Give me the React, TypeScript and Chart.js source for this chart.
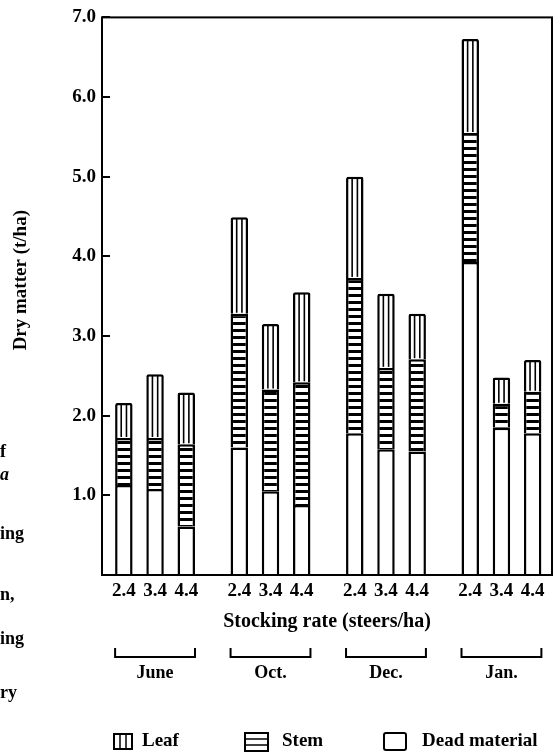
import React, { useEffect, useRef } from 'react';
import { Chart, registerables } from 'chart.js';

Chart.register(...registerables);

// ---- data ----
const MONTHS = ['June', 'Oct.', 'Dec.', 'Jan.'];
const RATES = ['2.4', '3.4', '4.4'];
const SERIES = ['Leaf', 'Stem', 'Dead material'];
// t/ha, bars in order June(2.4,3.4,4.4), Oct, Dec, Jan
const DEAD = [1.13, 1.08, 0.61, 1.6, 1.05, 0.88, 1.78, 1.58, 1.55, 3.93, 1.85, 1.78];
const STEM = [0.59, 0.64, 1.03, 1.68, 1.28, 1.54, 1.95, 1.02, 1.16, 1.62, 0.3, 0.52];
const LEAF = [0.44, 0.8, 0.65, 1.21, 0.82, 1.13, 1.27, 0.93, 0.57, 1.18, 0.33, 0.4];
const Y_TICKS = [1, 2, 3, 4, 5, 6, 7];
const Y_TITLE = 'Dry matter (t/ha)';
const X_TITLE = 'Stocking rate (steers/ha)';
// fragments of the neighbouring text column on the scanned page
const MARGIN_TEXT = ['f', 'a', 'ing', 'n,', 'ing', 'ry'];

// ---- layout ----
const W = 557;
const H = 755;
const GROUP_STRIDE = 3.7;
const FONT = "'Liberation Serif', 'Times New Roman', serif";
const MARGIN_TOPS = [441, 464, 523, 584, 628, 682];
const MARGIN_ITALIC = [false, true, false, false, false, false];

const xPos = (i: number) => Math.floor(i / 3) * GROUP_STRIDE + (i % 3);
const X_POSITIONS = DEAD.map((_, i) => xPos(i));

function makeStemPattern(): CanvasPattern | string {
  const c = document.createElement('canvas');
  c.width = 8;
  c.height = 7;
  const g = c.getContext('2d');
  if (!g) return '#fff';
  g.fillStyle = '#fff';
  g.fillRect(0, 0, 8, 7);
  g.fillStyle = '#000';
  g.fillRect(0, 0, 8, 3);
  const p = g.createPattern(c, 'repeat');
  return p || '#fff';
}

const decorPlugin = {
  id: 'decor',
  afterDatasetsDraw(chart: any) {
    const ctx = chart.ctx as CanvasRenderingContext2D;
    // vertical hatching for leaf segments
    const leafMeta = chart.getDatasetMeta(2);
    ctx.save();
    ctx.strokeStyle = '#000';
    ctx.lineWidth = 1.6;
    leafMeta.data.forEach((el: any) => {
      const { x, y, base, width } = el.getProps(['x', 'y', 'base', 'width'], true);
      const top = Math.min(y, base) + 1;
      const bot = Math.max(y, base) - 1;
      [-0.15, 0.15].forEach((f) => {
        const lx = x + f * width;
        ctx.beginPath();
        ctx.moveTo(lx, top);
        ctx.lineTo(lx, bot);
        ctx.stroke();
      });
    });
    ctx.restore();
  },
  afterDraw(chart: any) {
    const ctx = chart.ctx as CanvasRenderingContext2D;
    const a = chart.chartArea;
    const yScale = chart.scales.y;
    ctx.save();
    ctx.strokeStyle = '#000';
    ctx.fillStyle = '#000';
    ctx.lineWidth = 2;
    // frame
    ctx.strokeRect(a.left, a.top, a.right - a.left, a.bottom - a.top);
    // inward y ticks
    Y_TICKS.forEach((v) => {
      const py = Math.round(yScale.getPixelForValue(v));
      ctx.beginPath();
      ctx.moveTo(a.left, py);
      ctx.lineTo(a.left + 8, py);
      ctx.stroke();
    });
    // y title (rotated)
    ctx.save();
    ctx.translate(21, (a.top + a.bottom) / 2 - 16);
    ctx.rotate(-Math.PI / 2);
    ctx.font = `bold 19px ${FONT}`;
    ctx.textAlign = 'center';
    ctx.textBaseline = 'middle';
    ctx.fillText(Y_TITLE, 0, 0);
    ctx.restore();
    // month brackets
    const meta = chart.getDatasetMeta(0);
    ctx.font = `bold 18px ${FONT}`;
    ctx.textAlign = 'center';
    ctx.textBaseline = 'middle';
    MONTHS.forEach((m, g) => {
      const e0 = meta.data[g * 3];
      const e2 = meta.data[g * 3 + 2];
      const left = e0.x - e0.width / 2;
      const right = e2.x + e2.width / 2;
      const yb = a.bottom + 82;
      const yt = a.bottom + 73;
      ctx.beginPath();
      ctx.moveTo(left, yt);
      ctx.lineTo(left, yb);
      ctx.lineTo(right, yb);
      ctx.lineTo(right, yt);
      ctx.stroke();
      ctx.fillText(m, (left + right) / 2, a.bottom + 98);
    });
    // legend
    const ly = 741;
    ctx.font = `bold 19px ${FONT}`;
    ctx.textAlign = 'left';
    // Leaf icon
    ctx.strokeRect(114, 734, 18, 15);
    ctx.lineWidth = 1.5;
    [120, 126].forEach((x) => {
      ctx.beginPath();
      ctx.moveTo(x, 734);
      ctx.lineTo(x, 749);
      ctx.stroke();
    });
    ctx.fillText(SERIES[0], 142, ly);
    // Stem icon
    ctx.lineWidth = 2;
    ctx.strokeRect(245, 733, 23, 18);
    ctx.lineWidth = 1.5;
    [739, 745].forEach((y) => {
      ctx.beginPath();
      ctx.moveTo(245, y);
      ctx.lineTo(268, y);
      ctx.stroke();
    });
    ctx.fillText(SERIES[1], 282, ly);
    // Dead icon
    ctx.lineWidth = 2;
    ctx.beginPath();
    (ctx as any).roundRect ? (ctx as any).roundRect(384, 733, 22, 17, 2) : ctx.rect(384, 733, 22, 17);
    ctx.stroke();
    ctx.fillText(SERIES[2], 422, ly);
    ctx.restore();
  },
};

export default function App() {
  const ref = useRef<HTMLCanvasElement | null>(null);

  useEffect(() => {
    document.body.style.margin = '0';
    const canvas = ref.current;
    if (!canvas) return;
    const stemPattern = makeStemPattern();
    const toPts = (arr: number[]) => arr.map((v, i) => ({ x: X_POSITIONS[i], y: v }));
    const common = {
      borderColor: '#000',
      borderWidth: 2.5,
      barPercentage: 0.56,
      categoryPercentage: 1,
    };
    const chart = new Chart(canvas, {
      type: 'bar',
      data: {
        datasets: [
          { label: SERIES[2], data: toPts(DEAD), backgroundColor: '#fff', ...common },
          { label: SERIES[1], data: toPts(STEM), backgroundColor: stemPattern as any, ...common },
          {
            label: SERIES[0],
            data: toPts(LEAF),
            backgroundColor: '#fff',
            ...common,
            borderRadius: { topLeft: 2, topRight: 2, bottomLeft: 0, bottomRight: 0 },
            borderSkipped: 'start',
          },
        ],
      },
      options: {
        animation: false,
        responsive: false,
        maintainAspectRatio: false,
        layout: { padding: { top: 13, right: 5, bottom: 121, left: 0 } },
        plugins: {
          legend: { display: false },
          tooltip: { enabled: false },
        },
        scales: {
          x: {
            type: 'linear',
            stacked: true,
            min: -0.7,
            max: 13.72,
            offset: false,
            afterBuildTicks: (s: any) => {
              s.ticks = X_POSITIONS.map((v) => ({ value: v }));
            },
            afterFit: (s: any) => {
              s.height = 59;
            },
            ticks: {
              autoSkip: false,
              maxRotation: 0,
              padding: 5,
              color: '#000',
              font: { family: FONT, size: 19, weight: 'bold' },
              callback: (_v: any, i: number) => RATES[i % 3],
            },
            grid: { display: false, drawTicks: false },
            border: { display: false },
            title: {
              display: true,
              text: X_TITLE,
              color: '#000',
              padding: { top: 4, bottom: 0 },
              font: { family: FONT, size: 20, weight: 'bold' },
            },
          },
          y: {
            stacked: true,
            min: 0,
            max: 7,
            afterBuildTicks: (s: any) => {
              s.ticks = Y_TICKS.map((v) => ({ value: v }));
            },
            afterFit: (s: any) => {
              s.width = 102;
            },
            ticks: {
              padding: 6,
              color: '#000',
              font: { family: FONT, size: 19, weight: 'bold' },
              callback: (v: any) => Number(v).toFixed(1),
            },
            grid: { display: false, drawTicks: false },
            border: { display: false },
            title: { display: false },
          },
        },
      } as any,
      plugins: [decorPlugin],
    });
    return () => chart.destroy();
  }, []);

  return (
    <div style={{ position: 'absolute', left: 0, top: 0, width: W, height: H, background: '#fff', overflow: 'hidden' }}>
      <canvas ref={ref} width={W} height={H} style={{ width: W, height: H, display: 'block' }} />
      {MARGIN_TEXT.map((t, i) => (
        <span
          key={i}
          style={{
            position: 'absolute',
            left: 0,
            top: MARGIN_TOPS[i],
            fontFamily: FONT,
            fontWeight: 'bold',
            fontStyle: MARGIN_ITALIC[i] ? 'italic' : 'normal',
            fontSize: 18,
            lineHeight: '20px',
            color: '#000',
          }}
        >
          {t}
        </span>
      ))}
    </div>
  );
}
